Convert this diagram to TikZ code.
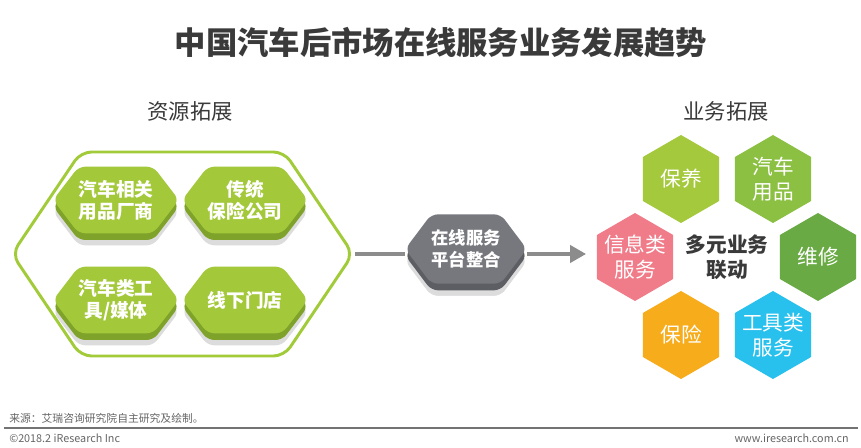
\documentclass[tikz,border=0pt]{standalone}
\usepackage{fontspec}
\setmainfont{Noto Sans CJK SC}
\usetikzlibrary{arrows.meta,positioning,shapes.symbols,shapes.geometric,shadows}
\definecolor{inkdark}{HTML}{3A3A3A}
\definecolor{limeface}{HTML}{A3C83A}
\definecolor{limeband}{HTML}{7FA22A}
\definecolor{limeline}{HTML}{A2CB3A}
\definecolor{hubface}{HTML}{76787E}
\definecolor{hubband}{HTML}{5C5E63}
\definecolor{shadowgray}{HTML}{DCDCDC}
\definecolor{flowgray}{HTML}{8C8C8C}
\definecolor{bizlime}{HTML}{A4C93C}
\definecolor{bizgreen}{HTML}{8CC043}
\definecolor{bizdeep}{HTML}{6AAA45}
\definecolor{bizorange}{HTML}{F7AC1C}
\definecolor{bizcyan}{HTML}{28C0EC}
\definecolor{bizpink}{HTML}{F07C8A}
\tikzset{
  hex/pool/.style={shape=signal, signal to=east and west, signal pointer angle=112,
    draw=limeline, line width=2.2pt, rounded corners=8pt,
    minimum width=255.75pt, minimum height=153pt, inner sep=0pt},
  hex/res/.style={shape=signal, signal to=east and west, signal pointer angle=105,
    minimum width=78pt, minimum height=50pt, inner sep=0pt, rounded corners=5pt,
    fill=limeface, text=white, align=center,
    font=\fontsize{14}{16.5}\selectfont\bfseries,
    general shadow={fill=shadowgray, shadow yshift=-9pt},
    general shadow={fill=limeband, shadow yshift=-5pt}},
  hex/hub/.style={hex/res, signal pointer angle=106,
    minimum width=90pt, minimum height=52pt, fill=hubface,
    font=\fontsize{13}{16}\selectfont\bfseries,
    general shadow={fill=shadowgray, shadow yshift=-9pt},
    general shadow={fill=hubband, shadow yshift=-5pt}},
  hex/biz/.style={regular polygon, regular polygon sides=6, shape border rotate=30,
    minimum size=66pt, inner sep=-7pt,
    text=white, align=center, font=\fontsize{15.5}{18.5}\selectfont},
  flow/.style={draw=flowgray, line width=2.5pt},
  head/.style={font=\fontsize{16}{19}\selectfont, text=inkdark},
  foot/.style={font=\fontsize{8.1}{9}\selectfont, text=black!60, inner sep=0pt}
}
\begin{document}
\begin{tikzpicture}[x=0.75pt, y=-0.75pt]
\useasboundingbox[fill=white] (0,0) rectangle (861,448);

% title and headings
\node[font=\fontsize{23.5}{28}\selectfont\bfseries, text=inkdark] (title) at (441,43) {中国汽车后市场在线服务业务发展趋势};
\node[head] (reshead) at (190,111) {资源拓展};
\node[head] (bizhead) at (726,111) {业务拓展};

% resources
\node[hex/pool] (pool) at (182.5,254) {};
\node[hex/res] (parts) at (116,200) {汽车相关\\用品厂商};
\node[hex/res] (insur) at (245,200) {传统\\保险公司};
\node[hex/res] (tools) at (116,300) {汽车类工\\具/媒体};
\node[hex/res] (shops) at (245,300) {线下门店};

% platform
\node[hex/hub] (hub) at (466,249) {在线服务\\平台整合};
\coordinate (tip) at (586,254);
\draw[flow] (pool.east) -- (pool.east -| hub.west);
\draw[flow, -{Triangle[length=12pt, width=13pt]}] (pool.east -| hub.east) -- (tip);

% business
\node[hex/biz, fill=bizlime] (care) at (681,179) {保养};
\node[hex/biz, fill=bizgreen] (goods) at (773,179) {汽车\\用品};
\node[hex/biz, fill=bizpink] (info) at (635,257) {信息类\\服务};
\node[hex/biz, fill=bizdeep] (repair) at (818,257) {维修};
\node[hex/biz, fill=bizorange] (policy) at (681,335) {保险};
\node[hex/biz, fill=bizcyan] (kit) at (773,335) {工具类\\服务};
\node[font=\fontsize{15.5}{18.5}\selectfont\bfseries, text=inkdark, align=center] (link) at (727,257) {多元业务\\联动};

% footer
\node[foot, anchor=west] (source) at (9,418) {来源：艾瑞咨询研究院自主研究及绘制。};
\draw[black!55, line width=0.8pt] (4,428) -- (858,428);
\node[foot, anchor=west] (copy) at (9,438) {©2018.2 iResearch Inc};
\node[foot, anchor=east] (site) at (849,438) {www.iresearch.com.cn};
\end{tikzpicture}
\end{document}
